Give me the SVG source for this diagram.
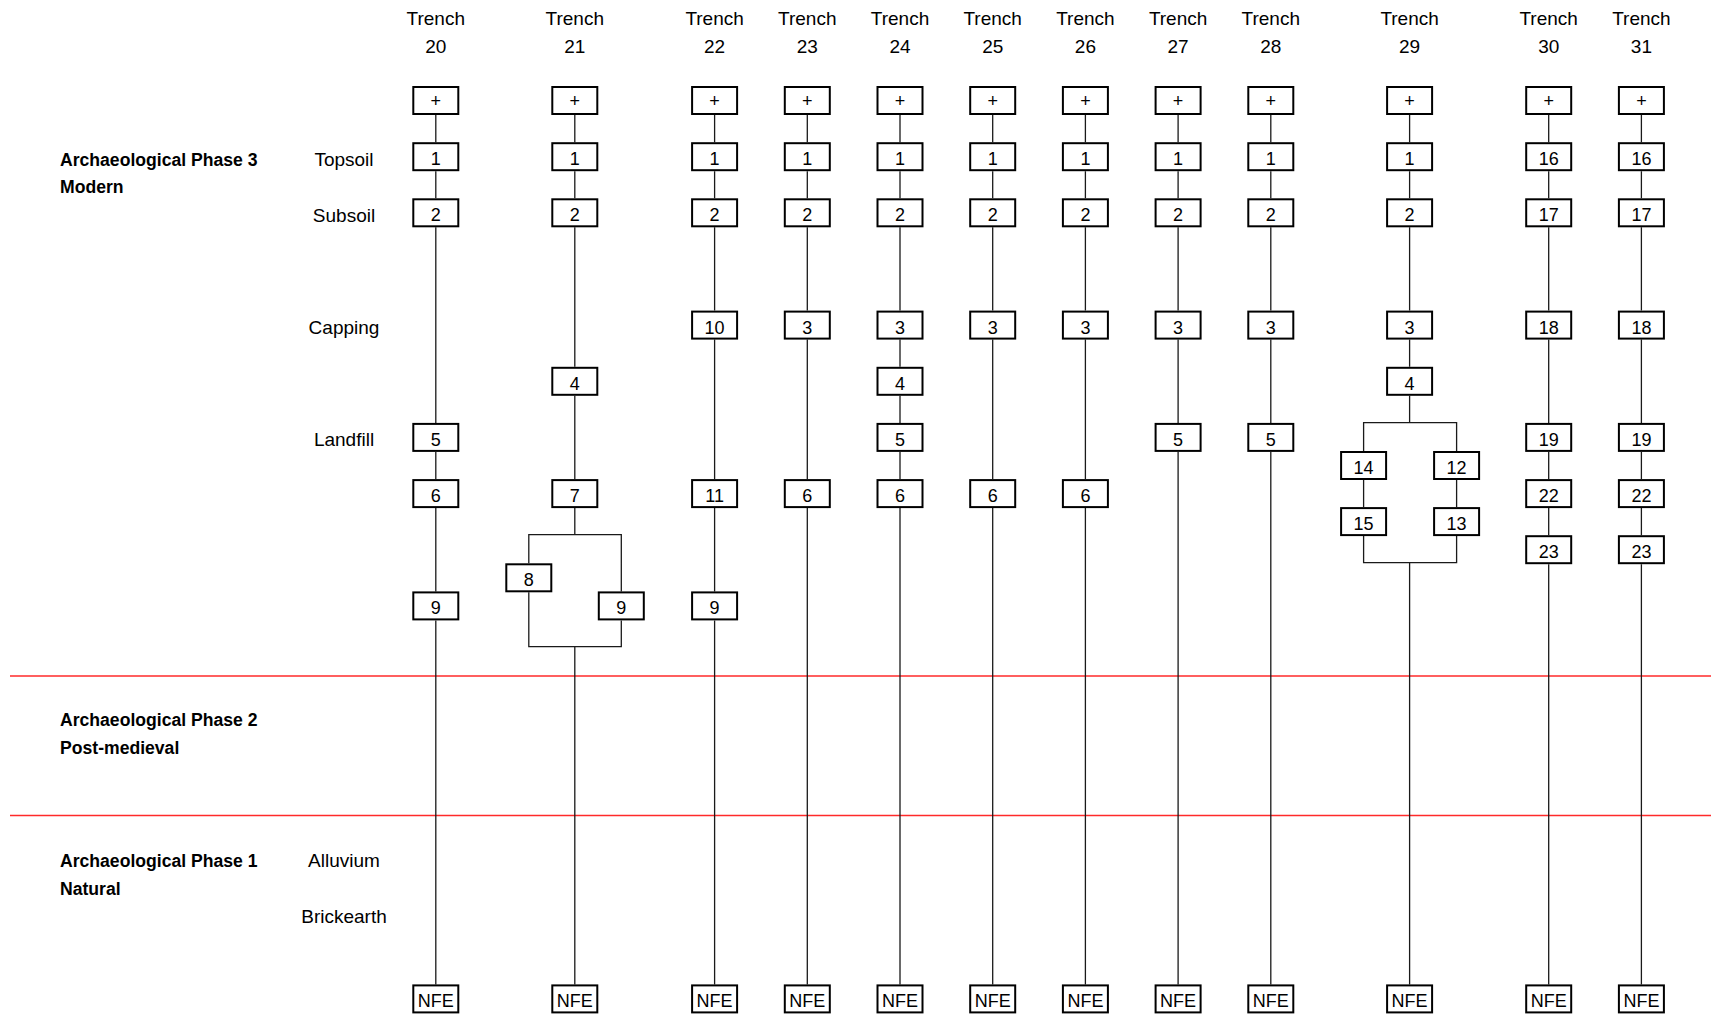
<svg xmlns="http://www.w3.org/2000/svg" width="1711" height="1016" viewBox="0 0 1711 1016">
<defs>
<style>
.bx{fill:#fff;stroke:#000;stroke-width:2}
.bt{font-family:"Liberation Sans",Arial,sans-serif;font-size:18px;text-anchor:middle;fill:#000}
.lb{font-family:"Liberation Sans",Arial,sans-serif;font-size:19px;text-anchor:middle;fill:#000}
.ph{font-family:"Liberation Sans",Arial,sans-serif;font-size:17.6px;font-weight:bold;fill:#000}
.cn{fill:none;stroke:#1a1a1a;stroke-width:1.3}
.red{stroke:#ff2a2a;stroke-width:1.6}
.sh{stroke:#d8d8d8;stroke-width:5}
</style>
<filter id="blur" x="-1%" y="-200%" width="102%" height="500%"><feGaussianBlur stdDeviation="1.5"/></filter>
</defs>
<rect width="1711" height="1016" fill="#fff"/>

<g id="phase-dividers">
<line class="sh" x1="12" y1="681" x2="1711" y2="681" filter="url(#blur)"/>
<line class="sh" x1="12" y1="820.5" x2="1711" y2="820.5" filter="url(#blur)"/>
<line class="red" x1="10" y1="676" x2="1711" y2="676"/>
<line class="red" x1="10" y1="815.5" x2="1711" y2="815.5"/>
</g>

<g id="labels">
<text class="ph" x="60" y="165.7">Archaeological Phase 3</text>
<text class="ph" x="60" y="193.3">Modern</text>
<text class="ph" x="60" y="726">Archaeological Phase 2</text>
<text class="ph" x="60" y="754">Post-medieval</text>
<text class="ph" x="60" y="867.3">Archaeological Phase 1</text>
<text class="ph" x="60" y="895">Natural</text>
<text class="lb" x="344" y="165.7">Topsoil</text>
<text class="lb" x="344" y="221.8">Subsoil</text>
<text class="lb" x="344" y="334.1">Capping</text>
<text class="lb" x="344" y="446.4">Landfill</text>
<text class="lb" x="344" y="867.3">Alluvium</text>
<text class="lb" x="344" y="923.3">Brickearth</text>
</g>

<g id="trench-headers">
<text class="lb" x="435.8" y="25">Trench</text><text class="lb" x="435.8" y="52.7">20</text>
<text class="lb" x="574.8" y="25">Trench</text><text class="lb" x="574.8" y="52.7">21</text>
<text class="lb" x="714.6" y="25">Trench</text><text class="lb" x="714.6" y="52.7">22</text>
<text class="lb" x="807.3" y="25">Trench</text><text class="lb" x="807.3" y="52.7">23</text>
<text class="lb" x="900" y="25">Trench</text><text class="lb" x="900" y="52.7">24</text>
<text class="lb" x="992.7" y="25">Trench</text><text class="lb" x="992.7" y="52.7">25</text>
<text class="lb" x="1085.4" y="25">Trench</text><text class="lb" x="1085.4" y="52.7">26</text>
<text class="lb" x="1178.1" y="25">Trench</text><text class="lb" x="1178.1" y="52.7">27</text>
<text class="lb" x="1270.8" y="25">Trench</text><text class="lb" x="1270.8" y="52.7">28</text>
<text class="lb" x="1409.6" y="25">Trench</text><text class="lb" x="1409.6" y="52.7">29</text>
<text class="lb" x="1548.7" y="25">Trench</text><text class="lb" x="1548.7" y="52.7">30</text>
<text class="lb" x="1641.4" y="25">Trench</text><text class="lb" x="1641.4" y="52.7">31</text>
</g>

<g id="connectors">
<!-- T20 -->
<path class="cn" d="M435.8 115V142.2M435.8 171.2V198.3M435.8 227.3V422.9M435.8 451.9V479.1M435.8 508.1V591.4M435.8 620.4V984.4"/>
<!-- T21 -->
<path class="cn" d="M574.8 115V142.2M574.8 171.2V198.3M574.8 227.3V366.8M574.8 395.8V479.1M574.8 508.1V534.7M528.8 563.3V534.7H621.3V591.4M528.8 592.3V646.7H621.3V620.4M574.8 646.7V984.4"/>
<!-- T22 -->
<path class="cn" d="M714.6 115V142.2M714.6 171.2V198.3M714.6 227.3V310.6M714.6 339.6V479.1M714.6 508.1V591.4M714.6 620.4V984.4"/>
<!-- T23 -->
<path class="cn" d="M807.3 115V142.2M807.3 171.2V198.3M807.3 227.3V310.6M807.3 339.6V479.1M807.3 508.1V984.4"/>
<!-- T24 -->
<path class="cn" d="M900 115V142.2M900 171.2V198.3M900 227.3V310.6M900 339.6V366.8M900 395.8V422.9M900 451.9V479.1M900 508.1V984.4"/>
<!-- T25 -->
<path class="cn" d="M992.7 115V142.2M992.7 171.2V198.3M992.7 227.3V310.6M992.7 339.6V479.1M992.7 508.1V984.4"/>
<!-- T26 -->
<path class="cn" d="M1085.4 115V142.2M1085.4 171.2V198.3M1085.4 227.3V310.6M1085.4 339.6V479.1M1085.4 508.1V984.4"/>
<!-- T27 -->
<path class="cn" d="M1178.1 115V142.2M1178.1 171.2V198.3M1178.1 227.3V310.6M1178.1 339.6V422.9M1178.1 451.9V984.4"/>
<!-- T28 -->
<path class="cn" d="M1270.8 115V142.2M1270.8 171.2V198.3M1270.8 227.3V310.6M1270.8 339.6V422.9M1270.8 451.9V984.4"/>
<!-- T29 -->
<path class="cn" d="M1409.6 115V142.2M1409.6 171.2V198.3M1409.6 227.3V310.6M1409.6 339.6V366.8M1409.6 395.8V422.7M1363.6 451V422.7H1456.6V451M1363.6 480V507.1M1456.6 480V507.1M1363.6 536.1V562.7H1456.6V536.1M1409.6 562.7V984.4"/>
<!-- T30 -->
<path class="cn" d="M1548.7 115V142.2M1548.7 171.2V198.3M1548.7 227.3V310.6M1548.7 339.6V422.9M1548.7 451.9V479.1M1548.7 508.1V535.2M1548.7 564.2V984.4"/>
<!-- T31 -->
<path class="cn" d="M1641.4 115V142.2M1641.4 171.2V198.3M1641.4 227.3V310.6M1641.4 339.6V422.9M1641.4 451.9V479.1M1641.4 508.1V535.2M1641.4 564.2V984.4"/>
</g>

<g id="t20">
<g id="t20-top"><rect class="bx" x="413.3" y="87" width="45" height="27"/><text class="bt" x="435.8" y="107">+</text></g>
<g id="t20-1"><rect class="bx" x="413.3" y="143.2" width="45" height="27"/><text class="bt" x="435.8" y="165.2">1</text></g>
<g id="t20-2"><rect class="bx" x="413.3" y="199.3" width="45" height="27"/><text class="bt" x="435.8" y="221.3">2</text></g>
<g id="t20-5"><rect class="bx" x="413.3" y="423.9" width="45" height="27"/><text class="bt" x="435.8" y="445.9">5</text></g>
<g id="t20-6"><rect class="bx" x="413.3" y="480.1" width="45" height="27"/><text class="bt" x="435.8" y="502.1">6</text></g>
<g id="t20-9"><rect class="bx" x="413.3" y="592.4" width="45" height="27"/><text class="bt" x="435.8" y="614.4">9</text></g>
<g id="t20-nfe"><rect class="bx" x="413.3" y="985.4" width="45" height="27"/><text class="bt" x="435.8" y="1007.4">NFE</text></g>
</g>

<g id="t21">
<g id="t21-top"><rect class="bx" x="552.3" y="87" width="45" height="27"/><text class="bt" x="574.8" y="107">+</text></g>
<g id="t21-1"><rect class="bx" x="552.3" y="143.2" width="45" height="27"/><text class="bt" x="574.8" y="165.2">1</text></g>
<g id="t21-2"><rect class="bx" x="552.3" y="199.3" width="45" height="27"/><text class="bt" x="574.8" y="221.3">2</text></g>
<g id="t21-4"><rect class="bx" x="552.3" y="367.8" width="45" height="27"/><text class="bt" x="574.8" y="389.8">4</text></g>
<g id="t21-7"><rect class="bx" x="552.3" y="480.1" width="45" height="27"/><text class="bt" x="574.8" y="502.1">7</text></g>
<g id="t21-8"><rect class="bx" x="506.3" y="564.3" width="45" height="27"/><text class="bt" x="528.8" y="586.3">8</text></g>
<g id="t21-9"><rect class="bx" x="598.8" y="592.4" width="45" height="27"/><text class="bt" x="621.3" y="614.4">9</text></g>
<g id="t21-nfe"><rect class="bx" x="552.3" y="985.4" width="45" height="27"/><text class="bt" x="574.8" y="1007.4">NFE</text></g>
</g>

<g id="t22">
<g id="t22-top"><rect class="bx" x="692.1" y="87" width="45" height="27"/><text class="bt" x="714.6" y="107">+</text></g>
<g id="t22-1"><rect class="bx" x="692.1" y="143.2" width="45" height="27"/><text class="bt" x="714.6" y="165.2">1</text></g>
<g id="t22-2"><rect class="bx" x="692.1" y="199.3" width="45" height="27"/><text class="bt" x="714.6" y="221.3">2</text></g>
<g id="t22-10"><rect class="bx" x="692.1" y="311.6" width="45" height="27"/><text class="bt" x="714.6" y="333.6">10</text></g>
<g id="t22-11"><rect class="bx" x="692.1" y="480.1" width="45" height="27"/><text class="bt" x="714.6" y="502.1">11</text></g>
<g id="t22-9"><rect class="bx" x="692.1" y="592.4" width="45" height="27"/><text class="bt" x="714.6" y="614.4">9</text></g>
<g id="t22-nfe"><rect class="bx" x="692.1" y="985.4" width="45" height="27"/><text class="bt" x="714.6" y="1007.4">NFE</text></g>
</g>

<g id="t23">
<g id="t23-top"><rect class="bx" x="784.8" y="87" width="45" height="27"/><text class="bt" x="807.3" y="107">+</text></g>
<g id="t23-1"><rect class="bx" x="784.8" y="143.2" width="45" height="27"/><text class="bt" x="807.3" y="165.2">1</text></g>
<g id="t23-2"><rect class="bx" x="784.8" y="199.3" width="45" height="27"/><text class="bt" x="807.3" y="221.3">2</text></g>
<g id="t23-3"><rect class="bx" x="784.8" y="311.6" width="45" height="27"/><text class="bt" x="807.3" y="333.6">3</text></g>
<g id="t23-6"><rect class="bx" x="784.8" y="480.1" width="45" height="27"/><text class="bt" x="807.3" y="502.1">6</text></g>
<g id="t23-nfe"><rect class="bx" x="784.8" y="985.4" width="45" height="27"/><text class="bt" x="807.3" y="1007.4">NFE</text></g>
</g>

<g id="t24">
<g id="t24-top"><rect class="bx" x="877.5" y="87" width="45" height="27"/><text class="bt" x="900" y="107">+</text></g>
<g id="t24-1"><rect class="bx" x="877.5" y="143.2" width="45" height="27"/><text class="bt" x="900" y="165.2">1</text></g>
<g id="t24-2"><rect class="bx" x="877.5" y="199.3" width="45" height="27"/><text class="bt" x="900" y="221.3">2</text></g>
<g id="t24-3"><rect class="bx" x="877.5" y="311.6" width="45" height="27"/><text class="bt" x="900" y="333.6">3</text></g>
<g id="t24-4"><rect class="bx" x="877.5" y="367.8" width="45" height="27"/><text class="bt" x="900" y="389.8">4</text></g>
<g id="t24-5"><rect class="bx" x="877.5" y="423.9" width="45" height="27"/><text class="bt" x="900" y="445.9">5</text></g>
<g id="t24-6"><rect class="bx" x="877.5" y="480.1" width="45" height="27"/><text class="bt" x="900" y="502.1">6</text></g>
<g id="t24-nfe"><rect class="bx" x="877.5" y="985.4" width="45" height="27"/><text class="bt" x="900" y="1007.4">NFE</text></g>
</g>

<g id="t25">
<g id="t25-top"><rect class="bx" x="970.2" y="87" width="45" height="27"/><text class="bt" x="992.7" y="107">+</text></g>
<g id="t25-1"><rect class="bx" x="970.2" y="143.2" width="45" height="27"/><text class="bt" x="992.7" y="165.2">1</text></g>
<g id="t25-2"><rect class="bx" x="970.2" y="199.3" width="45" height="27"/><text class="bt" x="992.7" y="221.3">2</text></g>
<g id="t25-3"><rect class="bx" x="970.2" y="311.6" width="45" height="27"/><text class="bt" x="992.7" y="333.6">3</text></g>
<g id="t25-6"><rect class="bx" x="970.2" y="480.1" width="45" height="27"/><text class="bt" x="992.7" y="502.1">6</text></g>
<g id="t25-nfe"><rect class="bx" x="970.2" y="985.4" width="45" height="27"/><text class="bt" x="992.7" y="1007.4">NFE</text></g>
</g>

<g id="t26">
<g id="t26-top"><rect class="bx" x="1062.9" y="87" width="45" height="27"/><text class="bt" x="1085.4" y="107">+</text></g>
<g id="t26-1"><rect class="bx" x="1062.9" y="143.2" width="45" height="27"/><text class="bt" x="1085.4" y="165.2">1</text></g>
<g id="t26-2"><rect class="bx" x="1062.9" y="199.3" width="45" height="27"/><text class="bt" x="1085.4" y="221.3">2</text></g>
<g id="t26-3"><rect class="bx" x="1062.9" y="311.6" width="45" height="27"/><text class="bt" x="1085.4" y="333.6">3</text></g>
<g id="t26-6"><rect class="bx" x="1062.9" y="480.1" width="45" height="27"/><text class="bt" x="1085.4" y="502.1">6</text></g>
<g id="t26-nfe"><rect class="bx" x="1062.9" y="985.4" width="45" height="27"/><text class="bt" x="1085.4" y="1007.4">NFE</text></g>
</g>

<g id="t27">
<g id="t27-top"><rect class="bx" x="1155.6" y="87" width="45" height="27"/><text class="bt" x="1178.1" y="107">+</text></g>
<g id="t27-1"><rect class="bx" x="1155.6" y="143.2" width="45" height="27"/><text class="bt" x="1178.1" y="165.2">1</text></g>
<g id="t27-2"><rect class="bx" x="1155.6" y="199.3" width="45" height="27"/><text class="bt" x="1178.1" y="221.3">2</text></g>
<g id="t27-3"><rect class="bx" x="1155.6" y="311.6" width="45" height="27"/><text class="bt" x="1178.1" y="333.6">3</text></g>
<g id="t27-5"><rect class="bx" x="1155.6" y="423.9" width="45" height="27"/><text class="bt" x="1178.1" y="445.9">5</text></g>
<g id="t27-nfe"><rect class="bx" x="1155.6" y="985.4" width="45" height="27"/><text class="bt" x="1178.1" y="1007.4">NFE</text></g>
</g>

<g id="t28">
<g id="t28-top"><rect class="bx" x="1248.3" y="87" width="45" height="27"/><text class="bt" x="1270.8" y="107">+</text></g>
<g id="t28-1"><rect class="bx" x="1248.3" y="143.2" width="45" height="27"/><text class="bt" x="1270.8" y="165.2">1</text></g>
<g id="t28-2"><rect class="bx" x="1248.3" y="199.3" width="45" height="27"/><text class="bt" x="1270.8" y="221.3">2</text></g>
<g id="t28-3"><rect class="bx" x="1248.3" y="311.6" width="45" height="27"/><text class="bt" x="1270.8" y="333.6">3</text></g>
<g id="t28-5"><rect class="bx" x="1248.3" y="423.9" width="45" height="27"/><text class="bt" x="1270.8" y="445.9">5</text></g>
<g id="t28-nfe"><rect class="bx" x="1248.3" y="985.4" width="45" height="27"/><text class="bt" x="1270.8" y="1007.4">NFE</text></g>
</g>

<g id="t29">
<g id="t29-top"><rect class="bx" x="1387.1" y="87" width="45" height="27"/><text class="bt" x="1409.6" y="107">+</text></g>
<g id="t29-1"><rect class="bx" x="1387.1" y="143.2" width="45" height="27"/><text class="bt" x="1409.6" y="165.2">1</text></g>
<g id="t29-2"><rect class="bx" x="1387.1" y="199.3" width="45" height="27"/><text class="bt" x="1409.6" y="221.3">2</text></g>
<g id="t29-3"><rect class="bx" x="1387.1" y="311.6" width="45" height="27"/><text class="bt" x="1409.6" y="333.6">3</text></g>
<g id="t29-4"><rect class="bx" x="1387.1" y="367.8" width="45" height="27"/><text class="bt" x="1409.6" y="389.8">4</text></g>
<g id="t29-14"><rect class="bx" x="1341.1" y="452" width="45" height="27"/><text class="bt" x="1363.6" y="474">14</text></g>
<g id="t29-12"><rect class="bx" x="1434.1" y="452" width="45" height="27"/><text class="bt" x="1456.6" y="474">12</text></g>
<g id="t29-15"><rect class="bx" x="1341.1" y="508.1" width="45" height="27"/><text class="bt" x="1363.6" y="530.1">15</text></g>
<g id="t29-13"><rect class="bx" x="1434.1" y="508.1" width="45" height="27"/><text class="bt" x="1456.6" y="530.1">13</text></g>
<g id="t29-nfe"><rect class="bx" x="1387.1" y="985.4" width="45" height="27"/><text class="bt" x="1409.6" y="1007.4">NFE</text></g>
</g>

<g id="t30">
<g id="t30-top"><rect class="bx" x="1526.2" y="87" width="45" height="27"/><text class="bt" x="1548.7" y="107">+</text></g>
<g id="t30-16"><rect class="bx" x="1526.2" y="143.2" width="45" height="27"/><text class="bt" x="1548.7" y="165.2">16</text></g>
<g id="t30-17"><rect class="bx" x="1526.2" y="199.3" width="45" height="27"/><text class="bt" x="1548.7" y="221.3">17</text></g>
<g id="t30-18"><rect class="bx" x="1526.2" y="311.6" width="45" height="27"/><text class="bt" x="1548.7" y="333.6">18</text></g>
<g id="t30-19"><rect class="bx" x="1526.2" y="423.9" width="45" height="27"/><text class="bt" x="1548.7" y="445.9">19</text></g>
<g id="t30-22"><rect class="bx" x="1526.2" y="480.1" width="45" height="27"/><text class="bt" x="1548.7" y="502.1">22</text></g>
<g id="t30-23"><rect class="bx" x="1526.2" y="536.2" width="45" height="27"/><text class="bt" x="1548.7" y="558.2">23</text></g>
<g id="t30-nfe"><rect class="bx" x="1526.2" y="985.4" width="45" height="27"/><text class="bt" x="1548.7" y="1007.4">NFE</text></g>
</g>

<g id="t31">
<g id="t31-top"><rect class="bx" x="1618.9" y="87" width="45" height="27"/><text class="bt" x="1641.4" y="107">+</text></g>
<g id="t31-16"><rect class="bx" x="1618.9" y="143.2" width="45" height="27"/><text class="bt" x="1641.4" y="165.2">16</text></g>
<g id="t31-17"><rect class="bx" x="1618.9" y="199.3" width="45" height="27"/><text class="bt" x="1641.4" y="221.3">17</text></g>
<g id="t31-18"><rect class="bx" x="1618.9" y="311.6" width="45" height="27"/><text class="bt" x="1641.4" y="333.6">18</text></g>
<g id="t31-19"><rect class="bx" x="1618.9" y="423.9" width="45" height="27"/><text class="bt" x="1641.4" y="445.9">19</text></g>
<g id="t31-22"><rect class="bx" x="1618.9" y="480.1" width="45" height="27"/><text class="bt" x="1641.4" y="502.1">22</text></g>
<g id="t31-23"><rect class="bx" x="1618.9" y="536.2" width="45" height="27"/><text class="bt" x="1641.4" y="558.2">23</text></g>
<g id="t31-nfe"><rect class="bx" x="1618.9" y="985.4" width="45" height="27"/><text class="bt" x="1641.4" y="1007.4">NFE</text></g>
</g>
</svg>
